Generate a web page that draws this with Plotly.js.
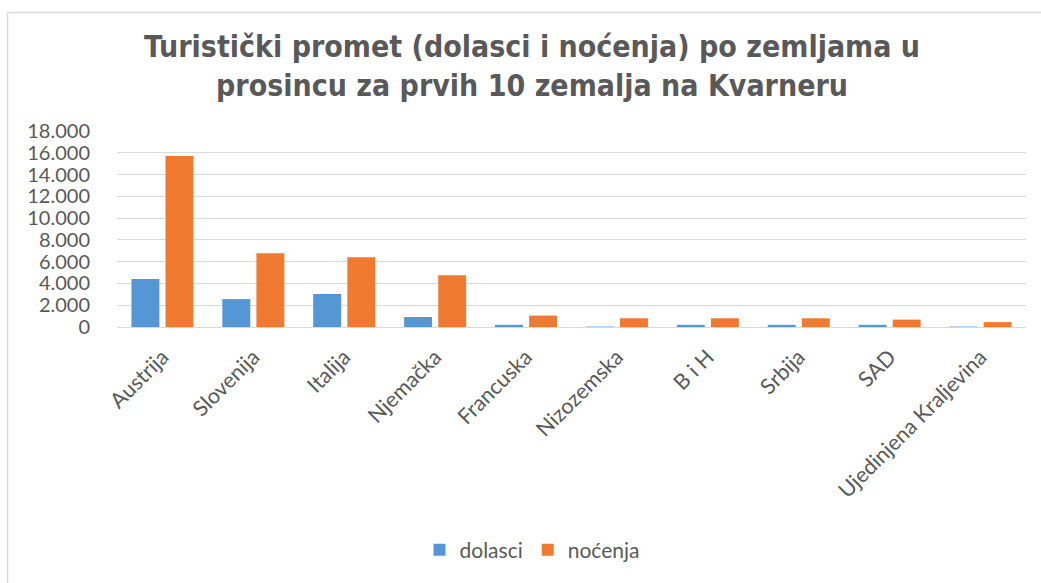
<!DOCTYPE html>
<html>
<head>
<meta charset="utf-8">
<script src="https://cdn.plot.ly/plotly-3.0.1.min.js"></script>
<style>html,body{margin:0;padding:0;background:#fff;}#chart{width:1041px;height:583px;}</style>
</head>
<body>
<div id="chart"></div>
<script>
const categories = ["Austrija","Slovenija","Italija","Njemačka","Francuska","Nizozemska","B i H","Srbija","SAD","Ujedinjena Kraljevina"];
const dolasci = [4400, 2560, 3020, 920, 200, 40, 200, 200, 200, 40];
const nocenja = [15700, 6780, 6410, 4760, 1050, 800, 800, 800, 680, 450];
const yTicks = [0, 2000, 4000, 6000, 8000, 10000, 12000, 14000, 16000, 18000];
const seriesNames = ["dolasci", "noćenja"];

const W = 1041, H = 583;
const M = {l: 117, r: 15, t: 131, b: 256};
const pw = W - M.l - M.r, ph = H - M.t - M.b;
function px(x){ return (x - M.l) / pw; }
function py(y){ return (H - M.b - y) / ph; }

const fontFam = "Lato, 'Open Sans', sans-serif";
const grey = "#595959";

const data = [
  {type: "bar", name: seriesNames[0], x: categories, y: dolasci,
   marker: {color: "#5596d6", line: {width: 0}}, hoverinfo: "y"},
  {type: "bar", name: seriesNames[1], x: categories, y: nocenja,
   marker: {color: "#ef7a30", line: {width: 0}}, hoverinfo: "y"}
];

const layout = {
  width: W, height: H,
  margin: M,
  paper_bgcolor: "#fff", plot_bgcolor: "#fff",
  separators: ",.",
  font: {family: fontFam, color: grey, size: 20},
  title: {
    text: "Turistički promet (dolasci i noćenja) po zemljama u<br>prosincu za prvih 10 zemalja na Kvarneru",
    font: {family: "'DejaVu Sans Condensed', 'DejaVu Sans', sans-serif", size: 30, color: grey, weight: "bold"},
    x: 532 / W, xref: "container", xanchor: "center",
    y: 1 - 57 / H, yref: "container", yanchor: "middle"
  },
  barmode: "group",
  bargap: 0.25,
  bargroupgap: 0.18,
  xaxis: {
    tickangle: -45,
    showgrid: false,
    showline: true, linecolor: "#d9d9d9", linewidth: 1,
    ticks: "outside", ticklen: 8, tickcolor: "rgba(0,0,0,0)",
    tickfont: {family: fontFam, size: 21.5, color: grey},
    fixedrange: true
  },
  yaxis: {
    range: [0, 18000],
    tickvals: yTicks,
    tickformat: ",d",
    showgrid: true, gridcolor: "#d9d9d9", gridwidth: 1,
    zeroline: false, showline: false,
    ticks: "outside", ticklen: 22, tickcolor: "rgba(0,0,0,0)",
    tickfont: {family: fontFam, size: 20, color: grey},
    fixedrange: true
  },
  legend: {
    orientation: "h",
    x: 532 / W, xref: "container", xanchor: "center",
    y: 1 - 550 / H, yref: "container", yanchor: "middle",
    font: {family: fontFam, size: 21, color: grey},
    itemwidth: 30
  },
  shapes: [
    {type: "line", xref: "paper", yref: "paper",
     x0: px(7.5), x1: px(1041), y0: py(12.5), y1: py(12.5),
     line: {color: "#d9d9d9", width: 1.5}, layer: "below"},
    {type: "line", xref: "paper", yref: "paper",
     x0: px(7.5), x1: px(7.5), y0: py(12.5), y1: py(583),
     line: {color: "#d9d9d9", width: 1.5}, layer: "below"}
  ]
};

Plotly.newPlot("chart", data, layout, {displayModeBar: false, staticPlot: true});
</script>
</body>
</html>
